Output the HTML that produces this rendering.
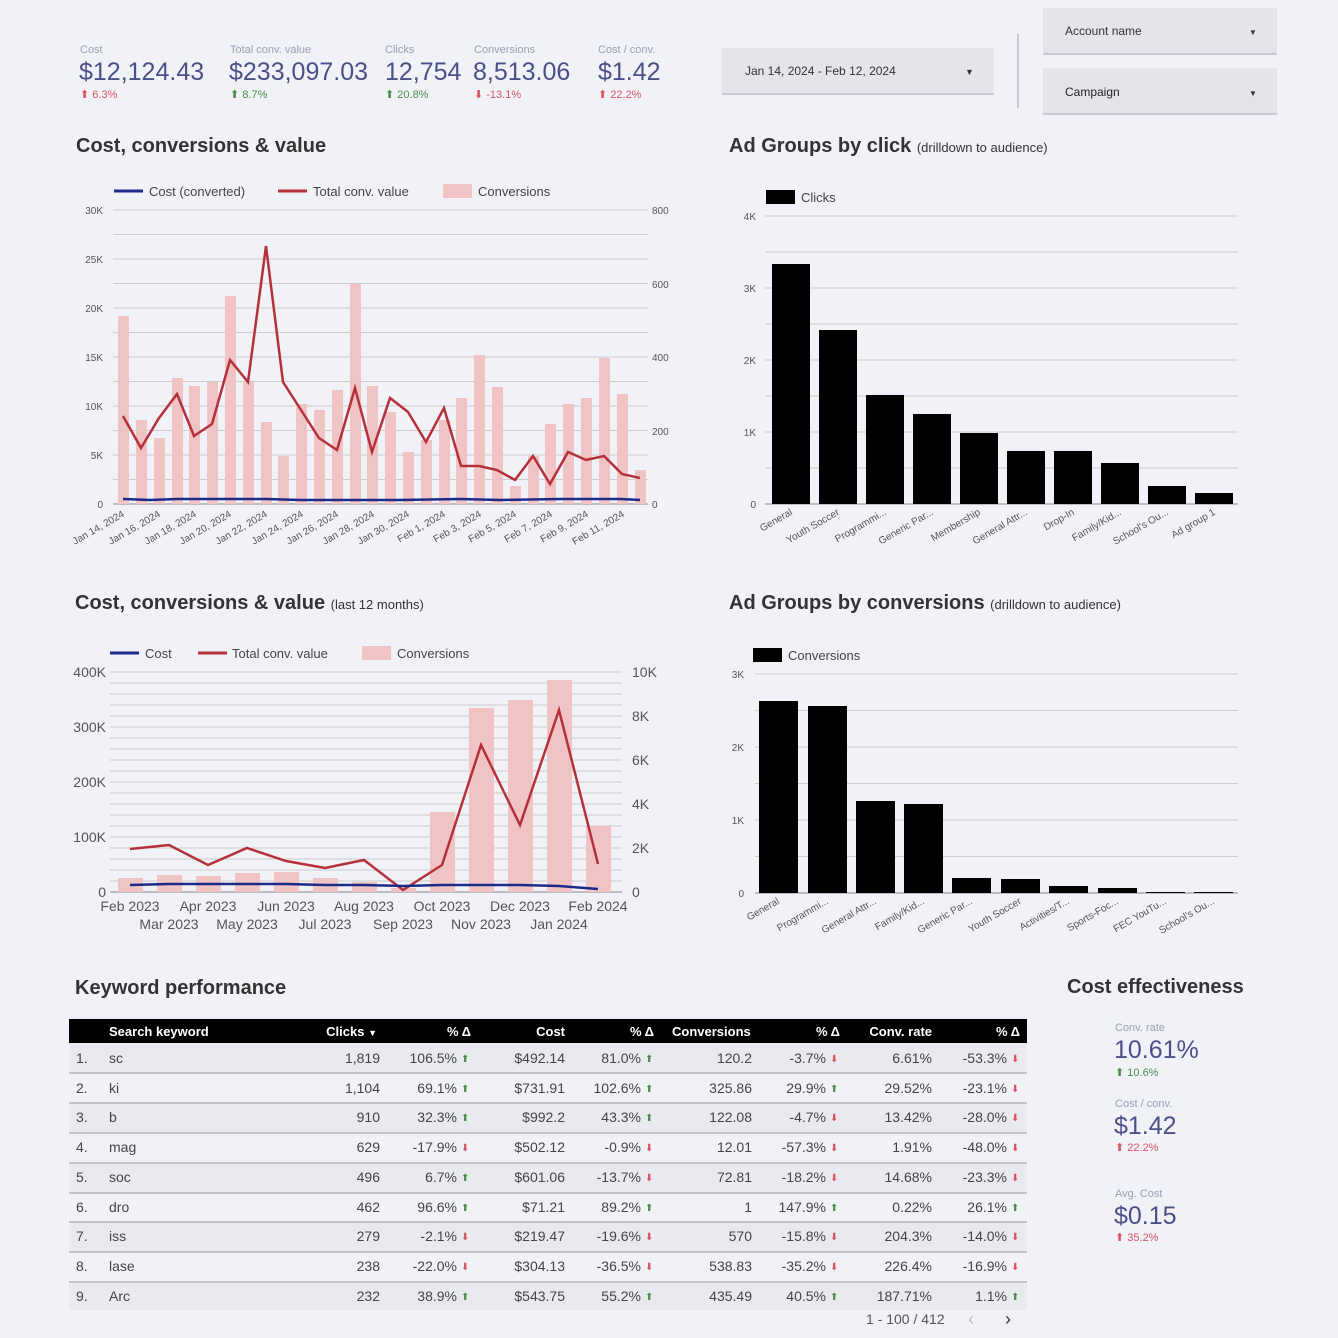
<!DOCTYPE html>
<html><head><meta charset="utf-8"><style>
body{margin:0;background:#f1f2f8;}
svg{display:block;font-family:"Liberation Sans",sans-serif;}
</style></head><body>
<svg width="1338" height="1338" viewBox="0 0 1338 1338" xmlns="http://www.w3.org/2000/svg">
<rect width="1338" height="1338" fill="#f1f2f8"/>
<!-- KPIs -->
<g font-size="11" fill="#9aa0b4">
<text x="80" y="53">Cost</text><text x="230" y="53">Total conv. value</text><text x="385" y="53">Clicks</text><text x="474" y="53">Conversions</text><text x="598" y="53">Cost / conv.</text>
</g>
<g font-size="25" fill="#4a5088">
<text x="79" y="80">$12,124.43</text><text x="229" y="80">$233,097.03</text><text x="385" y="80">12,754</text><text x="473" y="80">8,513.06</text><text x="598" y="80">$1.42</text>
</g>
<g font-size="11">
<text x="80" y="98" fill="#d9545f">⬆ 6.3%</text><text x="230" y="98" fill="#4c8c4a">⬆ 8.7%</text><text x="385" y="98" fill="#4c8c4a">⬆ 20.8%</text><text x="474" y="98" fill="#d9545f">⬇ -13.1%</text><text x="598" y="98" fill="#d9545f">⬆ 22.2%</text>
</g>
<!-- controls -->
<rect x="722" y="48" width="272" height="46" fill="#e4e5eb"/><rect x="722" y="93" width="272" height="2" fill="#c8c9d0"/>
<text x="745" y="75" font-size="12" fill="#333">Jan 14, 2024 - Feb 12, 2024</text><text x="965" y="75" font-size="9" fill="#333">▼</text>
<rect x="1017" y="34" width="2" height="74" fill="#c8c9d0"/>
<rect x="1043" y="8" width="234" height="46" fill="#e4e5eb"/><rect x="1043" y="53" width="234" height="2" fill="#c8c9d0"/>
<text x="1065" y="35" font-size="12" fill="#333">Account name</text><text x="1249" y="35" font-size="8" fill="#333">▼</text>
<rect x="1043" y="68" width="234" height="46" fill="#e4e5eb"/><rect x="1043" y="113" width="234" height="2" fill="#c8c9d0"/>
<text x="1065" y="96" font-size="12" fill="#222">Campaign</text><text x="1249" y="96" font-size="8" fill="#333">▼</text>

<!-- titles -->
<g font-weight="bold" font-size="20" fill="#333">
<text x="76" y="152">Cost, conversions &amp; value</text>
<text x="729" y="152">Ad Groups by click <tspan font-weight="normal" font-size="13">(drilldown to audience)</tspan></text>
<text x="75" y="609">Cost, conversions &amp; value <tspan font-weight="normal" font-size="13">(last 12 months)</tspan></text>
<text x="729" y="609">Ad Groups by conversions <tspan font-weight="normal" font-size="13">(drilldown to audience)</tspan></text>
<text x="75" y="994">Keyword performance</text>
<text x="1067" y="993">Cost effectiveness</text>
</g>

<!-- Chart 1 -->
<g stroke="#ccc" stroke-width="1">
<line x1="113" x2="648" y1="210" y2="210"/><line x1="113" x2="648" y1="234.5" y2="234.5"/><line x1="113" x2="648" y1="259" y2="259"/><line x1="113" x2="648" y1="283.5" y2="283.5"/><line x1="113" x2="648" y1="308" y2="308"/><line x1="113" x2="648" y1="332.5" y2="332.5"/><line x1="113" x2="648" y1="357" y2="357"/><line x1="113" x2="648" y1="381.5" y2="381.5"/><line x1="113" x2="648" y1="406" y2="406"/><line x1="113" x2="648" y1="430.5" y2="430.5"/><line x1="113" x2="648" y1="455" y2="455"/><line x1="113" x2="648" y1="479.5" y2="479.5"/>
</g>
<line x1="113" x2="648" y1="504" y2="504" stroke="#888"/>
<g font-size="10" fill="#555" text-anchor="end">
<text x="103" y="214">30K</text><text x="103" y="263">25K</text><text x="103" y="312">20K</text><text x="103" y="361">15K</text><text x="103" y="410">10K</text><text x="103" y="459">5K</text><text x="103" y="508">0</text>
</g>
<g font-size="10" fill="#555">
<text x="652" y="214">800</text><text x="652" y="288">600</text><text x="652" y="361">400</text><text x="652" y="435">200</text><text x="652" y="508">0</text>
</g>
<g fill="#f0c4c4">
<rect x="118" y="316" width="11" height="188"/><rect x="136" y="420" width="11" height="84"/><rect x="154" y="438" width="11" height="66"/><rect x="172" y="378" width="11" height="126"/><rect x="189" y="386" width="11" height="118"/><rect x="207" y="382" width="11" height="122"/><rect x="225" y="296" width="11" height="208"/><rect x="243" y="382" width="11" height="122"/><rect x="261" y="422" width="11" height="82"/><rect x="278" y="456" width="11" height="48"/><rect x="296" y="404" width="11" height="100"/><rect x="314" y="410" width="11" height="94"/><rect x="332" y="390" width="11" height="114"/><rect x="350" y="284" width="11" height="220"/><rect x="367" y="386" width="11" height="118"/><rect x="385" y="412" width="11" height="92"/><rect x="403" y="452" width="11" height="52"/><rect x="421" y="440" width="11" height="64"/><rect x="439" y="420" width="11" height="84"/><rect x="456" y="398" width="11" height="106"/><rect x="474" y="355" width="11" height="149"/><rect x="492" y="387" width="11" height="117"/><rect x="510" y="486" width="11" height="18"/><rect x="528" y="456" width="11" height="48"/><rect x="545" y="424" width="11" height="80"/><rect x="563" y="404" width="11" height="100"/><rect x="581" y="398" width="11" height="106"/><rect x="599" y="358" width="11" height="146"/><rect x="617" y="394" width="11" height="110"/><rect x="635" y="470" width="11" height="34"/>
</g>
<polyline fill="none" stroke="#b5303a" stroke-width="2.5" points="123,416 141,448 159,418 177,394 194,436 212,424 230,360 248,382 266,246 283,382 301,410 319,438 337,450 355,388 372,452 390,398 408,412 426,442 444,408 461,466 479,466 497,470 515,480 533,456 550,484 568,452 586,460 604,456 622,474 640,478"/>
<polyline fill="none" stroke="#1e2a8a" stroke-width="2.5" points="123,499 150,500 177,499 220,499 266,499 300,500 355,500 400,500 460,499 500,500 560,499 620,499 640,500"/>
<g font-size="13" fill="#444">
<line x1="114" x2="143" y1="191" y2="191" stroke="#1e2a8a" stroke-width="3"/><text x="149" y="196">Cost (converted)</text>
<line x1="278" x2="307" y1="191" y2="191" stroke="#b5303a" stroke-width="3"/><text x="313" y="196">Total conv. value</text>
<rect x="443" y="184" width="29" height="14" fill="#f0c4c4"/><text x="478" y="196">Conversions</text>
</g>
<g font-size="10" fill="#555" text-anchor="end">
<text transform="translate(125,516) rotate(-30)">Jan 14, 2024</text><text transform="translate(161,516) rotate(-30)">Jan 16, 2024</text><text transform="translate(197,516) rotate(-30)">Jan 18, 2024</text><text transform="translate(232,516) rotate(-30)">Jan 20, 2024</text><text transform="translate(268,516) rotate(-30)">Jan 22, 2024</text><text transform="translate(304,516) rotate(-30)">Jan 24, 2024</text><text transform="translate(339,516) rotate(-30)">Jan 26, 2024</text><text transform="translate(375,516) rotate(-30)">Jan 28, 2024</text><text transform="translate(410,516) rotate(-30)">Jan 30, 2024</text><text transform="translate(446,516) rotate(-30)">Feb 1, 2024</text><text transform="translate(482,516) rotate(-30)">Feb 3, 2024</text><text transform="translate(517,516) rotate(-30)">Feb 5, 2024</text><text transform="translate(553,516) rotate(-30)">Feb 7, 2024</text><text transform="translate(589,516) rotate(-30)">Feb 9, 2024</text><text transform="translate(625,516) rotate(-30)">Feb 11, 2024</text>
</g>

<!-- Chart 2 -->
<g stroke="#ccc"><line x1="765" x2="1238" y1="216" y2="216"/><line x1="765" x2="1238" y1="252" y2="252"/><line x1="765" x2="1238" y1="288" y2="288"/><line x1="765" x2="1238" y1="324" y2="324"/><line x1="765" x2="1238" y1="360" y2="360"/><line x1="765" x2="1238" y1="396" y2="396"/><line x1="765" x2="1238" y1="432" y2="432"/><line x1="765" x2="1238" y1="468" y2="468"/></g>
<line x1="765" x2="1238" y1="504" y2="504" stroke="#888"/>
<g font-size="10" fill="#555" text-anchor="end"><text x="756" y="220">4K</text><text x="756" y="292">3K</text><text x="756" y="364">2K</text><text x="756" y="436">1K</text><text x="756" y="508">0</text></g>
<rect x="766" y="190" width="29" height="14" fill="#000"/><text x="801" y="202" font-size="13" fill="#444">Clicks</text>
<g fill="#000">
<rect x="772" y="264" width="38" height="240"/><rect x="819" y="330" width="38" height="174"/><rect x="866" y="395" width="38" height="109"/><rect x="913" y="414" width="38" height="90"/><rect x="960" y="433" width="38" height="71"/><rect x="1007" y="451" width="38" height="53"/><rect x="1054" y="451" width="38" height="53"/><rect x="1101" y="463" width="38" height="41"/><rect x="1148" y="486" width="38" height="18"/><rect x="1195" y="493" width="38" height="11"/>
</g>
<g font-size="10" fill="#555" text-anchor="end">
<text transform="translate(793,514) rotate(-30)">General</text><text transform="translate(840,514) rotate(-30)">Youth Soccer</text><text transform="translate(887,514) rotate(-30)">Programmi...</text><text transform="translate(934,514) rotate(-30)">Generic Par...</text><text transform="translate(981,514) rotate(-30)">Membership</text><text transform="translate(1028,514) rotate(-30)">General Attr...</text><text transform="translate(1075,514) rotate(-30)">Drop-In</text><text transform="translate(1122,514) rotate(-30)">Family/Kid...</text><text transform="translate(1169,514) rotate(-30)">School's Ou...</text><text transform="translate(1216,514) rotate(-30)">Ad group 1</text>
</g>

<!-- Chart 3 -->
<g stroke="#ccc"><line x1="110" x2="622" y1="672" y2="672"/><line x1="110" x2="622" y1="694" y2="694"/><line x1="110" x2="622" y1="716" y2="716"/><line x1="110" x2="622" y1="738" y2="738"/><line x1="110" x2="622" y1="760" y2="760"/><line x1="110" x2="622" y1="782" y2="782"/><line x1="110" x2="622" y1="804" y2="804"/><line x1="110" x2="622" y1="826" y2="826"/><line x1="110" x2="622" y1="848" y2="848"/><line x1="110" x2="622" y1="870" y2="870"/><line x1="110" x2="622" y1="683" y2="683"/><line x1="110" x2="622" y1="705" y2="705"/><line x1="110" x2="622" y1="727" y2="727"/><line x1="110" x2="622" y1="749" y2="749"/><line x1="110" x2="622" y1="771" y2="771"/><line x1="110" x2="622" y1="793" y2="793"/><line x1="110" x2="622" y1="815" y2="815"/><line x1="110" x2="622" y1="837" y2="837"/><line x1="110" x2="622" y1="859" y2="859"/><line x1="110" x2="622" y1="881" y2="881"/></g>
<line x1="110" x2="622" y1="892" y2="892" stroke="#888"/>
<g font-size="14" fill="#555" text-anchor="end"><text x="106" y="677">400K</text><text x="106" y="732">300K</text><text x="106" y="787">200K</text><text x="106" y="842">100K</text><text x="106" y="897">0</text></g>
<g font-size="14" fill="#555"><text x="632" y="677">10K</text><text x="632" y="721">8K</text><text x="632" y="765">6K</text><text x="632" y="809">4K</text><text x="632" y="853">2K</text><text x="632" y="897">0</text></g>
<g fill="#f0c4c4">
<rect x="118" y="878" width="25" height="14"/><rect x="157" y="875" width="25" height="17"/><rect x="196" y="876" width="25" height="16"/><rect x="235" y="873" width="25" height="19"/><rect x="274" y="872" width="25" height="20"/><rect x="313" y="878" width="25" height="14"/><rect x="352" y="882" width="25" height="10"/><rect x="391" y="888" width="25" height="4"/><rect x="430" y="812" width="25" height="80"/><rect x="469" y="708" width="25" height="184"/><rect x="508" y="700" width="25" height="192"/><rect x="547" y="680" width="25" height="212"/><rect x="586" y="826" width="25" height="66"/>
</g>
<polyline fill="none" stroke="#b5303a" stroke-width="2.5" points="130,849 169,845 208,865 247,848 286,861 325,868 364,860 403,890 442,865 481,745 520,825 559,710 598,864"/>
<polyline fill="none" stroke="#1e2a8a" stroke-width="2.5" points="130,885 169,884 208,884 247,884 286,884 325,885 364,885 403,886 442,885 481,885 520,885 559,886 598,889"/>
<g font-size="13" fill="#444">
<line x1="110" x2="139" y1="653" y2="653" stroke="#1e2a8a" stroke-width="3"/><text x="145" y="658">Cost</text>
<line x1="198" x2="227" y1="653" y2="653" stroke="#b5303a" stroke-width="3"/><text x="232" y="658">Total conv. value</text>
<rect x="362" y="646" width="29" height="14" fill="#f0c4c4"/><text x="397" y="658">Conversions</text>
</g>
<g font-size="14" fill="#555" text-anchor="middle">
<text x="130" y="911">Feb 2023</text><text x="208" y="911">Apr 2023</text><text x="286" y="911">Jun 2023</text><text x="364" y="911">Aug 2023</text><text x="442" y="911">Oct 2023</text><text x="520" y="911">Dec 2023</text><text x="598" y="911">Feb 2024</text>
<text x="169" y="929">Mar 2023</text><text x="247" y="929">May 2023</text><text x="325" y="929">Jul 2023</text><text x="403" y="929">Sep 2023</text><text x="481" y="929">Nov 2023</text><text x="559" y="929">Jan 2024</text>
</g>

<!-- Chart 4 -->
<g stroke="#ccc"><line x1="755" x2="1238" y1="674" y2="674"/><line x1="755" x2="1238" y1="710.5" y2="710.5"/><line x1="755" x2="1238" y1="747" y2="747"/><line x1="755" x2="1238" y1="783.5" y2="783.5"/><line x1="755" x2="1238" y1="820" y2="820"/><line x1="755" x2="1238" y1="856.5" y2="856.5"/></g>
<line x1="755" x2="1238" y1="893" y2="893" stroke="#888"/>
<g font-size="10" fill="#555" text-anchor="end"><text x="744" y="678">3K</text><text x="744" y="751">2K</text><text x="744" y="824">1K</text><text x="744" y="897">0</text></g>
<rect x="753" y="648" width="29" height="14" fill="#000"/><text x="788" y="660" font-size="13" fill="#444">Conversions</text>
<g fill="#000">
<rect x="759" y="701" width="39" height="192"/><rect x="808" y="706" width="39" height="187"/><rect x="856" y="801" width="39" height="92"/><rect x="904" y="804" width="39" height="89"/><rect x="952" y="878" width="39" height="15"/><rect x="1001" y="879" width="39" height="14"/><rect x="1049" y="886" width="39" height="7"/><rect x="1098" y="888" width="39" height="5"/><rect x="1146" y="892" width="39" height="1"/><rect x="1194" y="892" width="39" height="1"/>
</g>
<g font-size="10" fill="#555" text-anchor="end">
<text transform="translate(780,903) rotate(-30)">General</text><text transform="translate(829,903) rotate(-30)">Programmi...</text><text transform="translate(877,903) rotate(-30)">General Attr...</text><text transform="translate(925,903) rotate(-30)">Family/Kid...</text><text transform="translate(973,903) rotate(-30)">Generic Par...</text><text transform="translate(1022,903) rotate(-30)">Youth Soccer</text><text transform="translate(1070,903) rotate(-30)">Activities/T...</text><text transform="translate(1119,903) rotate(-30)">Sports-Foc...</text><text transform="translate(1167,903) rotate(-30)">FEC YouTu...</text><text transform="translate(1215,903) rotate(-30)">School's Ou...</text>
</g>

<!-- Table -->
<rect x="69" y="1019" width="958" height="24" fill="#000"/>
<g font-size="13" font-weight="bold" fill="#fff">
<text x="109" y="1036">Search keyword</text>
<g text-anchor="end"><text x="377" y="1036">Clicks <tspan font-size="9">▼</tspan></text><text x="471" y="1036">% Δ</text><text x="565" y="1036">Cost</text><text x="654" y="1036">% Δ</text></g>
<text x="672" y="1036">Conversions</text>
<g text-anchor="end"><text x="840" y="1036">% Δ</text><text x="932" y="1036">Conv. rate</text><text x="1020" y="1036">% Δ</text></g>
</g>
<g fill="#e9eaef"><rect x="69" y="1043" width="958" height="30"/><rect x="69" y="1103" width="958" height="30"/><rect x="69" y="1163" width="958" height="30"/><rect x="69" y="1222" width="958" height="30"/><rect x="69" y="1282" width="958" height="28"/></g>
<g stroke="#999"><line x1="69" x2="1027" y1="1073" y2="1073"/><line x1="69" x2="1027" y1="1103" y2="1103"/><line x1="69" x2="1027" y1="1133" y2="1133"/><line x1="69" x2="1027" y1="1163" y2="1163"/><line x1="69" x2="1027" y1="1193" y2="1193"/><line x1="69" x2="1027" y1="1222" y2="1222"/><line x1="69" x2="1027" y1="1252" y2="1252"/><line x1="69" x2="1027" y1="1282" y2="1282"/></g>
<g font-size="14" fill="#444">
<g><text x="76" y="1063">1.</text><text x="76" y="1093">2.</text><text x="76" y="1122">3.</text><text x="76" y="1152">4.</text><text x="76" y="1182">5.</text><text x="76" y="1212">6.</text><text x="76" y="1241">7.</text><text x="76" y="1271">8.</text><text x="76" y="1301">9.</text></g>
<g><text x="109" y="1063">sc</text><text x="109" y="1093">ki</text><text x="109" y="1122">b</text><text x="109" y="1152">mag</text><text x="109" y="1182">soc</text><text x="109" y="1212">dro</text><text x="109" y="1241">iss</text><text x="109" y="1271">lase</text><text x="109" y="1301">Arc</text></g>
<g text-anchor="end">
<text x="380" y="1063">1,819</text><text x="380" y="1093">1,104</text><text x="380" y="1122">910</text><text x="380" y="1152">629</text><text x="380" y="1182">496</text><text x="380" y="1212">462</text><text x="380" y="1241">279</text><text x="380" y="1271">238</text><text x="380" y="1301">232</text>
<text x="457" y="1063">106.5%</text><text x="457" y="1093">69.1%</text><text x="457" y="1122">32.3%</text><text x="457" y="1152">-17.9%</text><text x="457" y="1182">6.7%</text><text x="457" y="1212">96.6%</text><text x="457" y="1241">-2.1%</text><text x="457" y="1271">-22.0%</text><text x="457" y="1301">38.9%</text>
<text x="565" y="1063">$492.14</text><text x="565" y="1093">$731.91</text><text x="565" y="1122">$992.2</text><text x="565" y="1152">$502.12</text><text x="565" y="1182">$601.06</text><text x="565" y="1212">$71.21</text><text x="565" y="1241">$219.47</text><text x="565" y="1271">$304.13</text><text x="565" y="1301">$543.75</text>
<text x="641" y="1063">81.0%</text><text x="641" y="1093">102.6%</text><text x="641" y="1122">43.3%</text><text x="641" y="1152">-0.9%</text><text x="641" y="1182">-13.7%</text><text x="641" y="1212">89.2%</text><text x="641" y="1241">-19.6%</text><text x="641" y="1271">-36.5%</text><text x="641" y="1301">55.2%</text>
<text x="752" y="1063">120.2</text><text x="752" y="1093">325.86</text><text x="752" y="1122">122.08</text><text x="752" y="1152">12.01</text><text x="752" y="1182">72.81</text><text x="752" y="1212">1</text><text x="752" y="1241">570</text><text x="752" y="1271">538.83</text><text x="752" y="1301">435.49</text>
<text x="826" y="1063">-3.7%</text><text x="826" y="1093">29.9%</text><text x="826" y="1122">-4.7%</text><text x="826" y="1152">-57.3%</text><text x="826" y="1182">-18.2%</text><text x="826" y="1212">147.9%</text><text x="826" y="1241">-15.8%</text><text x="826" y="1271">-35.2%</text><text x="826" y="1301">40.5%</text>
<text x="932" y="1063">6.61%</text><text x="932" y="1093">29.52%</text><text x="932" y="1122">13.42%</text><text x="932" y="1152">1.91%</text><text x="932" y="1182">14.68%</text><text x="932" y="1212">0.22%</text><text x="932" y="1241">204.3%</text><text x="932" y="1271">226.4%</text><text x="932" y="1301">187.71%</text>
<text x="1007" y="1063">-53.3%</text><text x="1007" y="1093">-23.1%</text><text x="1007" y="1122">-28.0%</text><text x="1007" y="1152">-48.0%</text><text x="1007" y="1182">-23.3%</text><text x="1007" y="1212">26.1%</text><text x="1007" y="1241">-14.0%</text><text x="1007" y="1271">-16.9%</text><text x="1007" y="1301">1.1%</text>
</g>
</g>
<g font-size="10">
<g fill="#4c8c4a"><text x="461" y="1062">⬆</text><text x="461" y="1092">⬆</text><text x="461" y="1121">⬆</text><text x="461" y="1181">⬆</text><text x="461" y="1211">⬆</text><text x="461" y="1300">⬆</text>
<text x="645" y="1062">⬆</text><text x="645" y="1092">⬆</text><text x="645" y="1121">⬆</text><text x="645" y="1211">⬆</text><text x="645" y="1300">⬆</text>
<text x="830" y="1092">⬆</text><text x="830" y="1211">⬆</text><text x="830" y="1300">⬆</text>
<text x="1011" y="1211">⬆</text><text x="1011" y="1300">⬆</text></g>
<g fill="#d9545f"><text x="461" y="1151">⬇</text><text x="461" y="1240">⬇</text><text x="461" y="1270">⬇</text>
<text x="645" y="1151">⬇</text><text x="645" y="1181">⬇</text><text x="645" y="1240">⬇</text><text x="645" y="1270">⬇</text>
<text x="830" y="1062">⬇</text><text x="830" y="1121">⬇</text><text x="830" y="1151">⬇</text><text x="830" y="1181">⬇</text><text x="830" y="1240">⬇</text><text x="830" y="1270">⬇</text>
<text x="1011" y="1062">⬇</text><text x="1011" y="1092">⬇</text><text x="1011" y="1121">⬇</text><text x="1011" y="1151">⬇</text><text x="1011" y="1181">⬇</text><text x="1011" y="1240">⬇</text><text x="1011" y="1270">⬇</text></g>
</g>
<text x="866" y="1324" font-size="14" fill="#555">1 - 100 / 412</text>
<text x="968" y="1325" font-size="18" fill="#bbb">‹</text><text x="1005" y="1325" font-size="18" fill="#333">›</text>

<!-- Cost effectiveness -->
<g font-size="11" fill="#9aa0b4"><text x="1115" y="1031">Conv. rate</text><text x="1115" y="1107">Cost / conv.</text><text x="1115" y="1197">Avg. Cost</text></g>
<g font-size="25" fill="#4a5088"><text x="1114" y="1058">10.61%</text><text x="1114" y="1134">$1.42</text><text x="1114" y="1224">$0.15</text></g>
<g font-size="11"><text x="1115" y="1076" fill="#4c8c4a">⬆ 10.6%</text><text x="1115" y="1151" fill="#d9545f">⬆ 22.2%</text><text x="1115" y="1241" fill="#d9545f">⬆ 35.2%</text></g>
</svg>
</body></html>
